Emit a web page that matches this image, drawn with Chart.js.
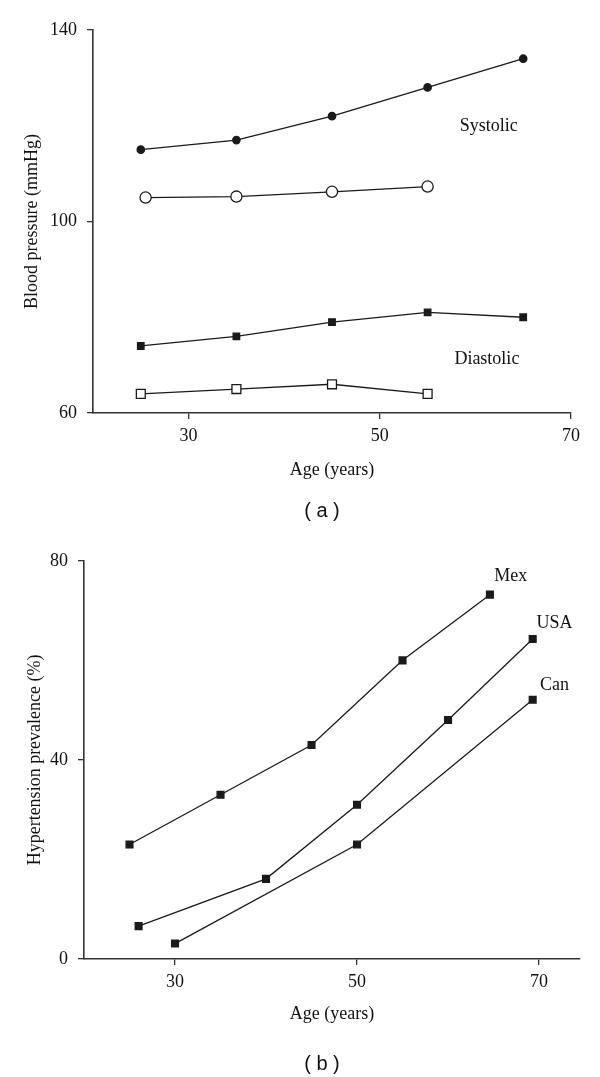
<!DOCTYPE html>
<html>
<head>
<meta charset="utf-8">
<script src="https://cdn.jsdelivr.net/npm/chart.js@4.4.1/dist/chart.umd.min.js"></script>
<style>
  html, body { margin: 0; padding: 0; background: #fff; }
  body { width: 600px; height: 1077px; position: relative; overflow: hidden; }
  .panel { position: absolute; left: 0; width: 600px; }
  #wrapA { top: 0; height: 540px; }
  #wrapB { top: 540px; height: 537px; }
  .tag { position: absolute; left: 272px; width: 100px; text-align: center;
         font: 20px "Liberation Sans", Arial, sans-serif; color: #111; line-height: 24px; }
</style>
</head>
<body>
<div class="panel" id="wrapA"><canvas id="chartA"></canvas></div>
<div class="panel" id="wrapB"><canvas id="chartB"></canvas></div>
<div class="tag" style="top:498px">( a )</div>
<div class="tag" style="top:1051px">( b )</div>
<script>
// panel (a) : blood pressure by age
const sysFilledAges = [25, 35, 45, 55, 65];
const sysFilled = [115, 117, 122, 128, 134];
const sysOpenAges = [25.5, 35, 45, 55];
const sysOpen = [105, 105.2, 106.2, 107.3];
const diaFilledAges = [25, 35, 45, 55, 65];
const diaFilled = [74, 76, 79, 81, 80];
const diaOpenAges = [25, 35, 45, 55];
const diaOpen = [64, 65, 66, 64];
const xTicksA = [30, 50, 70];
const yTicksA = [60, 100, 140];

// panel (b) : hypertension prevalence by age
const mexAges = [25, 35, 45, 55, 64.6];
const mex = [23, 33, 43, 60, 73.2];
const usaAges = [26, 40, 50, 60, 69.3];
const usa = [6.6, 16.1, 31, 48, 64.3];
const canAges = [30, 50, 69.3];
const can = [3.1, 23, 52.1];
const xTicksB = [30, 50, 70];
const yTicksB = [0, 40, 80];

const INK = '#1a1a1a';
const AXIS = '#333';
const serif = '"Liberation Serif", "Times New Roman", serif';
const font = { family: serif, size: 18 };

const pts = (xs, ys) => xs.map((x, i) => ({ x, y: ys[i] }));

function series(xs, ys, style, radius, filled) {
  return {
    data: pts(xs, ys),
    borderColor: INK,
    borderWidth: 1.3,
    pointStyle: style,
    pointRadius: radius,
    pointBackgroundColor: filled ? INK : '#fff',
    pointBorderColor: INK,
    pointBorderWidth: 1.3,
    tension: 0,
    fill: false,
  };
}

// text labels placed in data coordinates
const labelsPlugin = {
  id: 'labels',
  afterDatasetsDraw(chart, args, opts) {
    const { ctx, scales: { x, y } } = chart;
    ctx.save();
    ctx.font = `18px ${serif}`;
    ctx.fillStyle = '#111';
    ctx.textAlign = 'center';
    ctx.textBaseline = 'middle';
    (opts.items || []).forEach((t) => {
      ctx.fillText(t.text, x.getPixelForValue(t.x), y.getPixelForValue(t.y));
    });
    ctx.restore();
  },
};

function axes(o) {
  return {
    x: {
      type: 'linear', min: o.xmin, max: o.xmax,
      grid: { drawOnChartArea: false, drawTicks: true, tickLength: 6, color: AXIS, lineWidth: 1.3 },
      border: { display: true, color: AXIS, width: 1.6 },
      ticks: { font, color: '#111', padding: 6, maxRotation: 0 },
      afterBuildTicks: (s) => { s.ticks = o.xticks.map((v) => ({ value: v })); },
      afterFit: (s) => { s.height = o.xh; },
      title: { display: true, text: 'Age (years)', font, color: '#111', padding: { top: 0, bottom: o.xpad } },
    },
    y: {
      type: 'linear', min: o.ymin, max: o.ymax,
      grid: { drawOnChartArea: false, drawTicks: true, tickLength: 6, color: AXIS, lineWidth: 1.3 },
      border: { display: true, color: AXIS, width: 1.6 },
      ticks: { font, color: '#111', padding: 10 },
      afterBuildTicks: (s) => { s.ticks = o.yticks.map((v) => ({ value: v })); },
      afterFit: (s) => { s.width = o.yw; },
      title: { display: true, text: o.ytitle, font, color: '#111', padding: { top: o.ypad, bottom: 0 } },
    },
  };
}

new Chart(document.getElementById('chartA'), {
  type: 'line',
  data: {
    datasets: [
      series(sysFilledAges, sysFilled, 'circle', 3.7, true),
      series(sysOpenAges, sysOpen, 'circle', 5.6, false),
      series(diaFilledAges, diaFilled, 'rect', 4.6, true),
      series(diaOpenAges, diaOpen, 'rect', 6.3, false),
    ],
  },
  options: {
    responsive: true,
    maintainAspectRatio: false,
    animation: false,
    clip: false,
    layout: { padding: { top: 30, right: 29, left: 0, bottom: 0 } },
    plugins: {
      legend: { display: false },
      tooltip: { enabled: false },
      labels: { items: [
        { text: 'Systolic', x: 61.4, y: 119.8 },
        { text: 'Diastolic', x: 61.2, y: 71.3 },
      ] },
    },
    scales: axes({
      xmin: 20, xmax: 70, xticks: xTicksA, xh: 127, xpad: 59,
      ymin: 60, ymax: 140, yticks: yTicksA, yw: 93, ypad: 21,
      ytitle: 'Blood pressure (mmHg)',
    }),
  },
  plugins: [labelsPlugin],
});

new Chart(document.getElementById('chartB'), {
  type: 'line',
  data: {
    datasets: [
      series(mexAges, mex, 'rect', 4.8, true),
      series(usaAges, usa, 'rect', 4.8, true),
      series(canAges, can, 'rect', 4.8, true),
    ],
  },
  options: {
    responsive: true,
    maintainAspectRatio: false,
    animation: false,
    clip: false,
    layout: { padding: { top: 19, right: 20, left: 0, bottom: 0 } },
    plugins: {
      legend: { display: false },
      tooltip: { enabled: false },
      labels: { items: [
        { text: 'Mex', x: 66.9, y: 76.9 },
        { text: 'USA', x: 71.7, y: 67.4 },
        { text: 'Can', x: 71.7, y: 55.0 },
      ] },
    },
    scales: axes({
      xmin: 20, xmax: 74.5, xticks: xTicksB, xh: 118, xpad: 52,
      ymin: 0, ymax: 80, yticks: yTicksB, yw: 84, ypad: 24,
      ytitle: 'Hypertension prevalence (%)',
    }),
  },
  plugins: [labelsPlugin],
});
</script>
</body>
</html>
